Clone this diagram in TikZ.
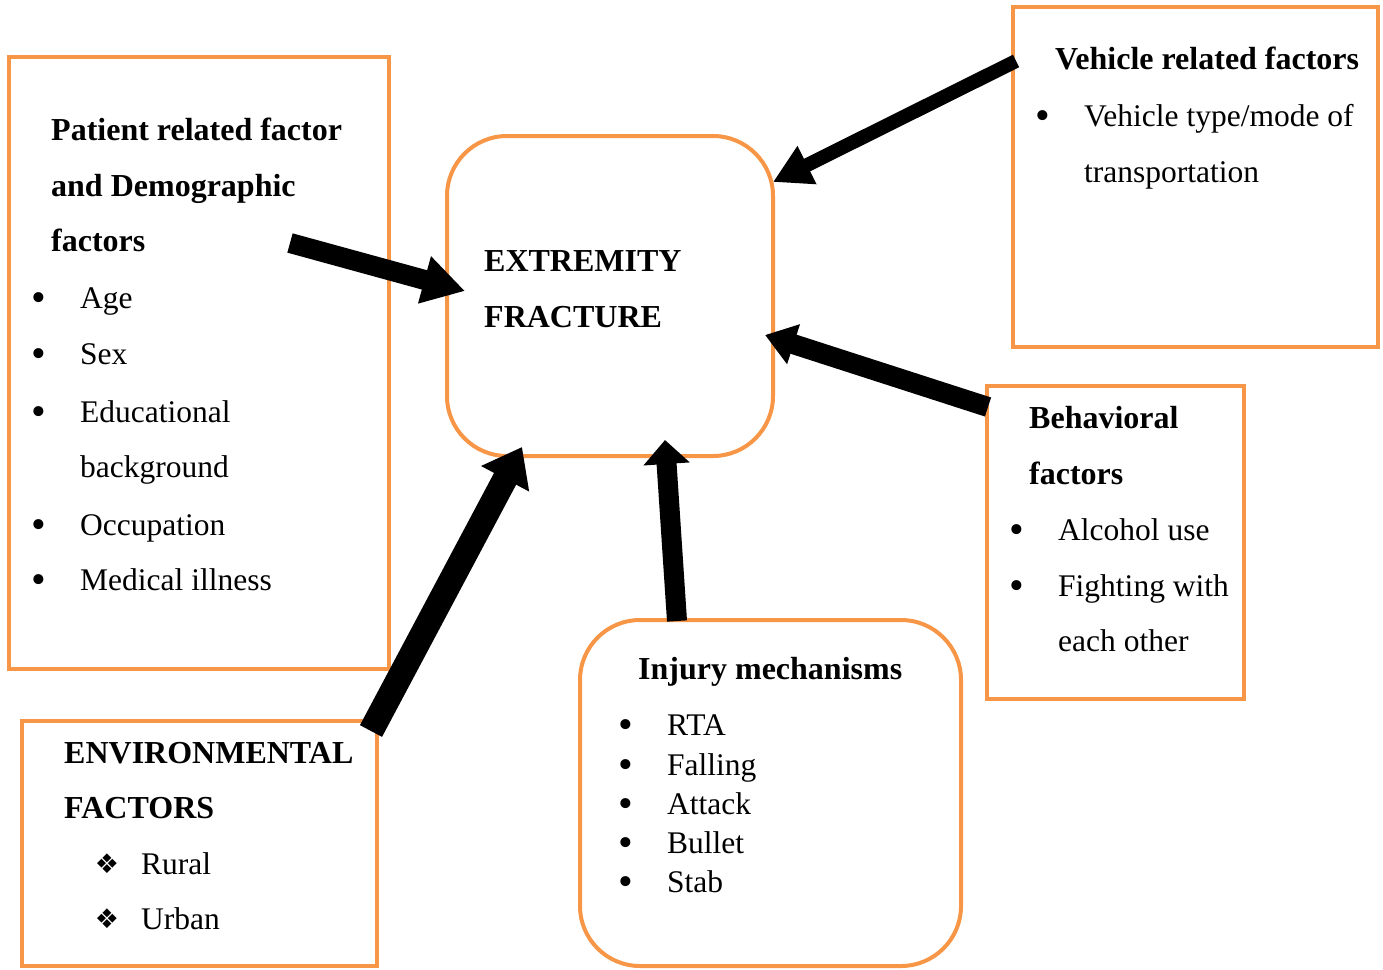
\documentclass[tikz,border=0pt]{standalone}
\usepackage{fontspec}
\setmainfont{Liberation Serif}
\newfontfamily\symfont{DejaVu Sans}
\usetikzlibrary{arrows.meta}
\definecolor{boxorange}{HTML}{F79646}
\begin{document}
\begin{tikzpicture}[x=1pt,y=-1pt,
  box/.style={draw=boxorange,line width=4pt,fill=none},
  rbox/.style={box,rounded corners=60pt},
  txt/.style={anchor=base west,inner sep=0pt,font=\fontsize{31.5}{36}\selectfont},
  btxt/.style={txt,font=\fontsize{32}{36}\selectfont\bfseries},
  bul/.style={anchor=base,inner sep=0pt,yshift=-3pt,font=\fontsize{42}{44}\selectfont},
  dia/.style={anchor=base,inner sep=0pt,font=\symfont\fontsize{27}{30}\selectfont},
  bigarrow/.style={line width=#1,line cap=butt},
]
\useasboundingbox (0,0) rectangle (1383,969);
% boxes
\draw[box] (9,57) rectangle (389,669);
\draw[rbox] (447,136) rectangle (773,456);
\draw[box] (1013,7) rectangle (1378,347);
\draw[box] (987,386) rectangle (1244,699);
\draw[rbox] (580,620) rectangle (961,966);
\draw[box] (22,721) rectangle (377,966);
% named box anchors (nodes)
\node[inner sep=0pt] (patient) at (199,363) {};
\node[inner sep=0pt] (center) at (610,296) {};
\node[inner sep=0pt] (vehicle) at (1195,177) {};
\node[inner sep=0pt] (behav) at (1115,542) {};
\node[inner sep=0pt] (injury) at (770,793) {};
\node[inner sep=0pt] (env) at (199,843) {};
% patient texts
\node[btxt] (p1) at (51,140) {Patient related factor};
\node[btxt] (p2) at (51,196) {and Demographic};
\node[btxt] (p3) at (51,251) {factors};
\node[bul] (pb1) at (39,308) {\textbullet};
\node[txt] (pt1) at (80,308) {Age};
\node[bul] (pb2) at (39,364) {\textbullet};
\node[txt] (pt2) at (80,364) {Sex};
\node[bul] (pb3) at (39,422) {\textbullet};
\node[txt] (pt3) at (80,422) {Educational};
\node[txt] (pt4) at (80,477) {background};
\node[bul] (pb5) at (39,535) {\textbullet};
\node[txt] (pt5) at (80,535) {Occupation};
\node[bul] (pb6) at (39,590) {\textbullet};
\node[txt] (pt6) at (80,590) {Medical illness};
% center
\node[btxt] (c1) at (484,271) {EXTREMITY};
\node[btxt] (c2) at (484,327) {FRACTURE};
% vehicle
\node[btxt] (v1) at (1055,69) {Vehicle related factors};
\node[bul] (vb1) at (1043,126) {\textbullet};
\node[txt] (vt1) at (1084,126) {Vehicle type/mode of};
\node[txt] (vt2) at (1084,182) {transportation};
% behavioral
\node[btxt] (b1) at (1029,428) {Behavioral};
\node[btxt] (b2) at (1029,484) {factors};
\node[bul] (bb1) at (1017,540) {\textbullet};
\node[txt] (bt1) at (1058,540) {Alcohol use};
\node[bul] (bb2) at (1017,596) {\textbullet};
\node[txt] (bt2) at (1058,596) {Fighting with};
\node[txt] (bt3) at (1058,651) {each other};
% injury
\node[btxt] (i0) at (638,679) {Injury mechanisms};
\node[bul] (ib1) at (626,735) {\textbullet};
\node[txt] (it1) at (667,735) {RTA};
\node[bul] (ib2) at (626,775) {\textbullet};
\node[txt] (it2) at (667,775) {Falling};
\node[bul] (ib3) at (626,814) {\textbullet};
\node[txt] (it3) at (667,814) {Attack};
\node[bul] (ib4) at (626,853) {\textbullet};
\node[txt] (it4) at (667,853) {Bullet};
\node[bul] (ib5) at (626,892) {\textbullet};
\node[txt] (it5) at (667,892) {Stab};
% environmental
\node[btxt] (e1) at (64,763) {ENVIRONMENTAL};
\node[btxt] (e2) at (64,818) {FACTORS};
\node[dia] (ed1) at (107,873) {❖};
\node[txt] (et1) at (141,874) {Rural};
\node[dia] (ed2) at (107,928) {❖};
\node[txt] (et2) at (141,929) {Urban};
% arrow end coordinates
\coordinate (pA) at (290,243);
\coordinate (pB) at (465,291);
\coordinate (vA) at (1016,61);
\coordinate (vB) at (773,182);
\coordinate (bA) at (988,407);
\coordinate (bB) at (765,335);
\coordinate (iA) at (677,621);
\coordinate (iB) at (665,440);
\coordinate (eA) at (371,731);
\coordinate (eB) at (522,447);
% arrows
\draw[bigarrow=20pt,-{Triangle[length=42pt,width=46pt]}] (pA) -- (pB);
\draw[bigarrow=14pt,-{Triangle[length=38pt,width=40pt]}] (vA) -- (vB);
\draw[bigarrow=20pt,-{Triangle[length=30pt,width=40pt]}] (bA) -- (bB);
\draw[bigarrow=20pt,-{Triangle[length=24pt,width=45pt]}] (iA) -- (iB);
\draw[bigarrow=25pt,-{Triangle[length=36pt,width=52pt]}] (eA) -- (eB);
\end{tikzpicture}
\end{document}
